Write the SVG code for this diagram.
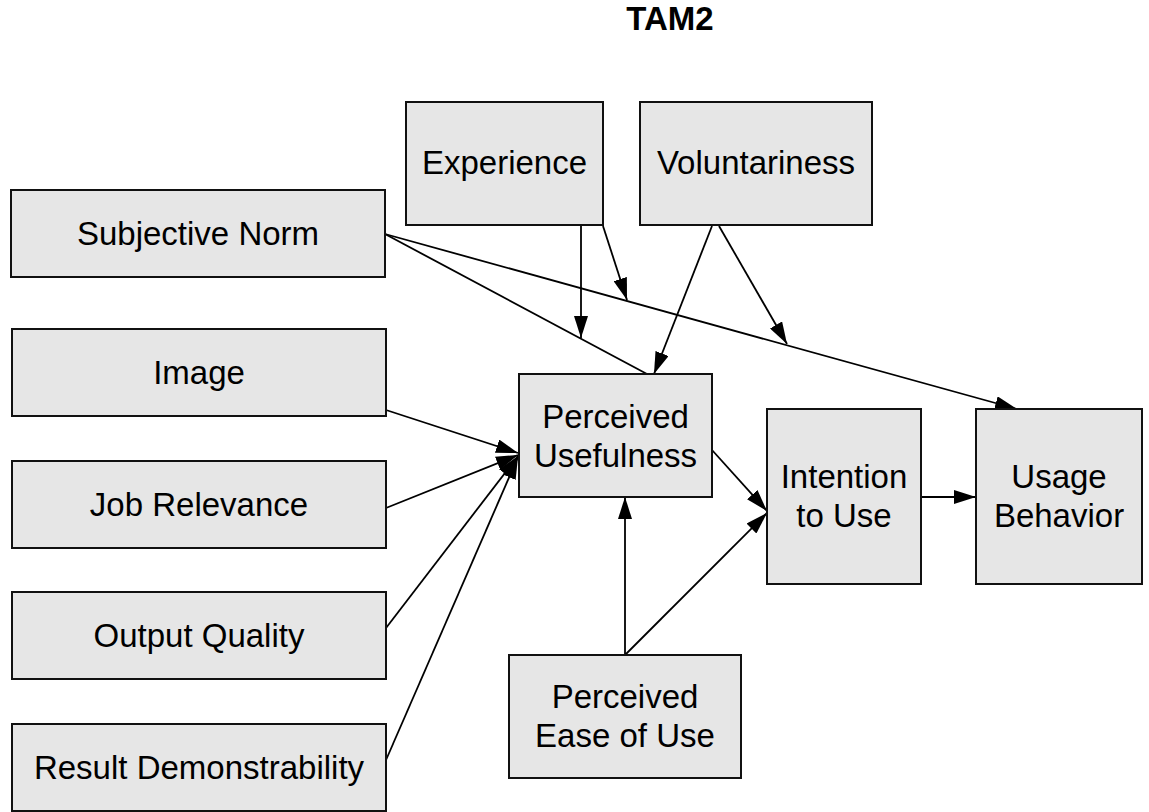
<svg xmlns="http://www.w3.org/2000/svg" width="1149" height="812" viewBox="0 0 1149 812">
<style>
.box{fill:#e6e6e6;stroke:#111;stroke-width:2}
.t{font-family:"Liberation Sans",Arial,sans-serif;font-size:33px;fill:#000;text-anchor:middle}
.title{font-family:"Liberation Sans",Arial,sans-serif;font-size:33px;font-weight:bold;fill:#000;text-anchor:middle}
.c{stroke:#000;stroke-width:1.8;fill:none}
.a{marker-end:url(#ah)}
</style>
<defs>
<marker id="ah" markerUnits="userSpaceOnUse" markerWidth="22" markerHeight="14" refX="22" refY="7" orient="auto" viewBox="0 0 22 14">
<path d="M0,0 L22,7 L0,14 z" fill="#000"/>
</marker>
</defs>
<rect width="1149" height="812" fill="#fff"/>
<text class="title" x="670" y="30">TAM2</text>
<g id="connectors">
<line class="c" x1="385" y1="234" x2="647" y2="374"/>
<line class="c a" x1="385" y1="234" x2="1017" y2="409"/>
<line class="c a" x1="581" y1="225" x2="581" y2="338"/>
<line class="c a" x1="603" y1="226" x2="627" y2="300"/>
<line class="c a" x1="712" y1="226" x2="654" y2="374"/>
<line class="c a" x1="719" y1="226" x2="787" y2="344"/>
<line class="c a" x1="386" y1="410" x2="518" y2="453"/>
<line class="c a" x1="386" y1="508" x2="518" y2="455"/>
<line class="c a" x1="386" y1="628" x2="518" y2="456"/>
<line class="c a" x1="386" y1="760" x2="518" y2="457"/>
<line class="c a" x1="712" y1="450" x2="767" y2="511"/>
<line class="c a" x1="625" y1="655" x2="625" y2="497"/>
<line class="c a" x1="625" y1="655" x2="767" y2="513"/>
<line class="c a" x1="921" y1="497" x2="976" y2="497"/>
</g>
<g id="subjective-norm"><rect class="box" x="11" y="190" width="374" height="87"/><text class="t" x="198" y="245">Subjective Norm</text></g>
<g id="image"><rect class="box" x="12" y="329" width="374" height="87"/><text class="t" x="199" y="384">Image</text></g>
<g id="job-relevance"><rect class="box" x="12" y="461" width="374" height="87"/><text class="t" x="199" y="516">Job Relevance</text></g>
<g id="output-quality"><rect class="box" x="12" y="592" width="374" height="87"/><text class="t" x="199" y="647">Output Quality</text></g>
<g id="result-demonstrability"><rect class="box" x="12" y="724" width="374" height="87"/><text class="t" x="199" y="779">Result Demonstrability</text></g>
<g id="experience"><rect class="box" x="406" y="102" width="197" height="123"/><text class="t" x="504.5" y="174">Experience</text></g>
<g id="voluntariness"><rect class="box" x="640" y="102" width="232" height="123"/><text class="t" x="756" y="174">Voluntariness</text></g>
<g id="perceived-usefulness"><rect class="box" x="519" y="374" width="193" height="123"/><text class="t" x="615.5" y="428">Perceived</text><text class="t" x="615.5" y="467">Usefulness</text></g>
<g id="perceived-ease-of-use"><rect class="box" x="509" y="655" width="232" height="123"/><text class="t" x="625" y="708">Perceived</text><text class="t" x="625" y="747">Ease of Use</text></g>
<g id="intention-to-use"><rect class="box" x="767" y="409" width="154" height="175"/><text class="t" x="844" y="488">Intention</text><text class="t" x="844" y="527">to Use</text></g>
<g id="usage-behavior"><rect class="box" x="976" y="409" width="166" height="175"/><text class="t" x="1059" y="488">Usage</text><text class="t" x="1059" y="527">Behavior</text></g>
</svg>
